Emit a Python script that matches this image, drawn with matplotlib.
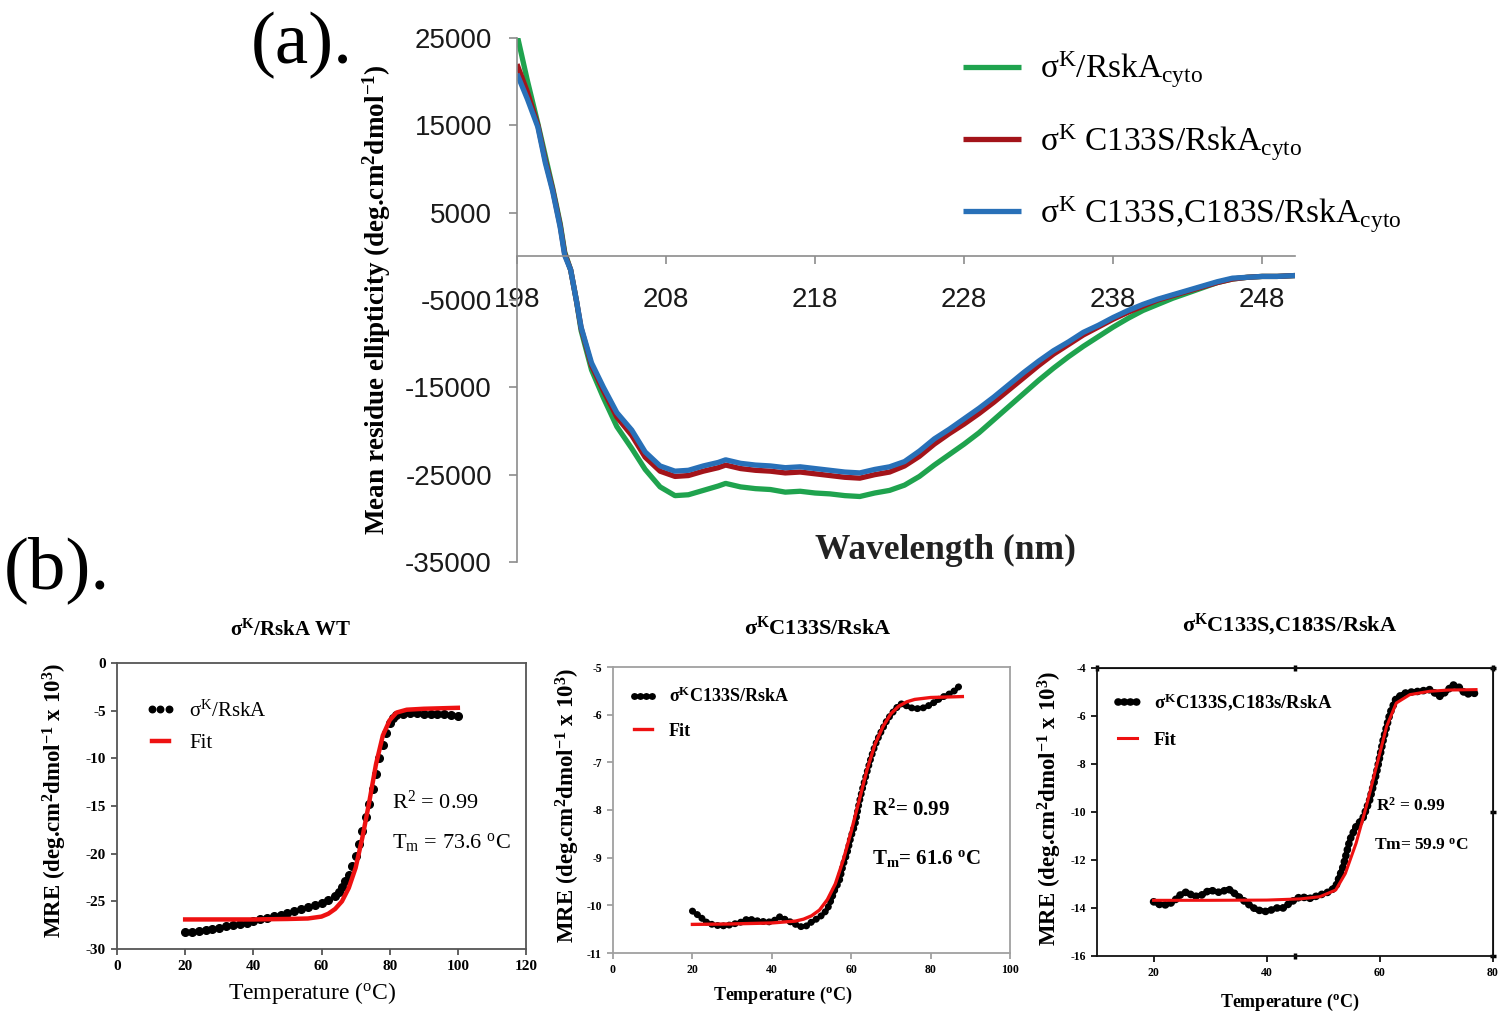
import numpy as np
import matplotlib.pyplot as plt

plt.rcParams['font.family'] = ['Liberation Serif', 'DejaVu Serif']
plt.rcParams['mathtext.fontset'] = 'custom'
plt.rcParams['mathtext.rm'] = 'Liberation Serif'
plt.rcParams['mathtext.it'] = 'Liberation Serif:italic'
plt.rcParams['mathtext.bf'] = 'Liberation Serif:bold'
plt.rcParams['axes.unicode_minus'] = False

# (a) CD spectra
wavelength = [198, 198.7, 199.4, 199.9, 200.4, 200.9, 201.2, 201.6, 202, 202.3,
              203, 203.8, 204.7, 205.7, 206.6, 207.6, 208.6, 209.5, 210.5, 211.5,
              212, 213, 214, 215, 216, 217, 218, 219, 220, 221,
              222, 223, 224, 225, 226, 227, 228, 229, 230, 231,
              232, 233, 234, 235, 236, 237, 238, 239, 240, 241,
              242, 243, 244, 245, 246, 247, 248, 249, 250.2]
cd_wt = [25400, 20100, 15200, 11500, 7800, 3750, 500, -1550, -5200, -8500,
         -13000, -16200, -19500, -22000, -24400, -26400, -27400, -27300, -26800, -26300,
         -26000, -26400, -26600, -26700, -27000, -26900, -27100, -27200, -27400, -27500,
         -27100, -26800, -26200, -25200, -23900, -22700, -21500, -20200, -18700, -17200,
         -15700, -14200, -12800, -11500, -10300, -9200, -8100, -7100, -6200, -5500,
         -4800, -4200, -3600, -3000, -2600, -2400, -2300, -2300, -2200]
cd_c133s = [22000, 18800, 15000, 11000, 7600, 3500, 300, -1550, -5200, -8200,
            -12500, -15400, -18400, -20500, -23000, -24600, -25200, -25100, -24600, -24200,
            -23900, -24300, -24500, -24600, -24800, -24700, -24900, -25100, -25300, -25400,
            -25000, -24700, -24000, -22900, -21500, -20300, -19200, -18000, -16700, -15300,
            -13900, -12500, -11200, -10100, -9000, -8100, -7200, -6400, -5700, -5000,
            -4500, -4000, -3500, -3000, -2600, -2400, -2300, -2300, -2200]
cd_double = [20900, 18000, 14800, 10700, 7400, 3300, 100, -1550, -5200, -8100,
             -12200, -15000, -17900, -19900, -22400, -24000, -24600, -24500, -24000, -23600,
             -23300, -23700, -23900, -24000, -24200, -24100, -24300, -24500, -24700, -24800,
             -24400, -24100, -23500, -22300, -20900, -19800, -18600, -17400, -16100, -14700,
             -13300, -12000, -10800, -9800, -8700, -7900, -7000, -6200, -5500, -4900,
             -4400, -3900, -3400, -2900, -2500, -2400, -2300, -2300, -2200]
cd_labels = [r'σ$^{\mathrm{K}}$/RskA$_{\mathrm{cyto}}$',
             r'σ$^{\mathrm{K}}$ C133S/RskA$_{\mathrm{cyto}}$',
             r'σ$^{\mathrm{K}}$ C133S,C183S/RskA$_{\mathrm{cyto}}$']
cd_colors = ['#1fa34e', '#a3141a', '#2870b8']

# (b) thermal melts
t_wt = [20, 22, 24, 26, 28, 30, 32, 34, 36, 38, 40, 42, 44, 46, 48, 50, 52, 54, 56, 58,
        60, 62, 64, 65, 66, 67, 68, 69, 70, 71, 72, 73, 74, 75, 76, 77, 78, 79, 80, 81,
        82, 84, 86, 88, 90, 92, 94, 96, 98, 100]
mre_wt = [-28.2, -28.2, -28.1, -28.0, -27.9, -27.8, -27.6, -27.5, -27.4, -27.3, -27.1, -26.9, -26.7,
          -26.5, -26.4, -26.2, -26.0, -25.8, -25.6, -25.4, -25.2, -24.9, -24.4, -24.0, -23.5,
          -22.9, -22.2, -21.3, -20.2, -19.0, -17.6, -16.2, -14.8, -13.2, -11.6, -10.0, -8.6,
          -7.3, -6.3, -5.8, -5.5, -5.3, -5.2, -5.2, -5.3, -5.3, -5.3, -5.4, -5.5, -5.6]
tfit_wt = [20, 30, 40, 50, 56, 60, 62, 64, 66, 68, 70, 72, 74, 76, 78, 80, 82, 85, 90, 95, 100]
fit_wt = [-26.9, -26.9, -26.9, -26.85, -26.8, -26.6, -26.3, -25.8, -25.0, -23.6, -21.5, -18.3,
          -14.6, -10.6, -7.6, -6.0, -5.2, -4.9, -4.8, -4.75, -4.7]

t_c133s = list(range(20, 89))
mre_c133s = [-10.12, -10.18, -10.24, -10.32, -10.38, -10.40, -10.42, -10.43, -10.43, -10.42,
             -10.40, -10.38, -10.36, -10.32, -10.28, -10.30, -10.32, -10.33, -10.34, -10.35,
             -10.34, -10.30, -10.24, -10.28, -10.32, -10.36, -10.40, -10.44, -10.46, -10.42,
             -10.35, -10.30, -10.25, -10.18, -10.08, -9.88, -9.65, -9.50, -9.15, -8.90,
             -8.55, -8.30, -7.85, -7.50, -7.20, -6.90, -6.65, -6.45, -6.28, -6.12,
             -6.00, -5.90, -5.80, -5.76, -5.82, -5.85, -5.88, -5.87, -5.86, -5.84,
             -5.78, -5.74, -5.68, -5.63, -5.60, -5.55, -5.50, -5.42, -5.36]
tfit_c133s = [20, 30, 40, 46, 48, 50, 52, 54, 56, 58, 60, 62, 64, 66, 68, 70, 72, 74, 76, 80, 84, 88]
fit_c133s = [-10.40, -10.39, -10.37, -10.33, -10.29, -10.22, -10.10, -9.88, -9.55, -9.05, -8.45,
             -7.80, -7.15, -6.62, -6.25, -5.98, -5.82, -5.73, -5.68, -5.64, -5.63, -5.62]

t_double = [20, 21.2, 22.4, 23.5, 24.7, 25.9, 27.1, 28.5, 29.9, 31.8, 33.2, 34.7, 36.5, 38.2,
            40, 41.8, 42.9, 44.4, 45.9, 47.6, 49.4, 51.1, 52.2, 53.5, 54.7, 55.8, 57, 58.2,
            59.4, 60.6, 61.8, 62.9, 64.7, 67, 68.8, 70.6, 71.8, 72.9, 74, 75.2, 76.4, 77]
mre_double = [-13.74, -13.87, -13.87, -13.74, -13.46, -13.32, -13.53, -13.46, -13.25, -13.36,
              -13.2, -13.46, -13.8, -14.08, -14.15, -14.0, -14.0, -13.74, -13.53, -13.6,
              -13.46, -13.32, -13.11, -12.28, -11.16, -10.6, -10.26, -9.5, -8.38, -6.99,
              -5.88, -5.25, -5.02, -4.97, -4.9, -5.18, -4.97, -4.7, -4.8, -5.1, -5.04, -5.07]
tfit_double = [20, 30, 40, 46, 49.4, 52.2, 53.9, 55.8, 57.6, 59.4, 61.2, 62.9, 65.3, 68.8, 72, 77]
fit_double = [-13.68, -13.68, -13.67, -13.62, -13.53, -13.25, -12.56, -11.3, -9.77, -8.1, -6.43,
              -5.46, -5.11, -4.97, -4.92, -4.9]


W, H = 1507, 1014
fig = plt.figure(figsize=(W / 100, H / 100), dpi=100)


def px_axes(x0, y0, x1, y1):
    return fig.add_axes([x0 / W, 1 - y1 / H, (x1 - x0) / W, (y1 - y0) / H])


# ---- panel (a)
ax = px_axes(517, 38, 1295, 562)
for y, c, lab in zip([cd_wt, cd_c133s, cd_double], cd_colors, cd_labels):
    ax.plot(wavelength, y, color=c, lw=3.8, label=lab, solid_capstyle='butt')
ax.set_xlim(198, 250.2)
ax.set_ylim(-35000, 25000)
ax.set_xticks([198, 208, 218, 228, 238, 248])
ax.set_yticks([25000, 15000, 5000, -5000, -15000, -25000, -35000])
ax.spines['bottom'].set_position(('data', 0))
ax.spines['top'].set_visible(False)
ax.spines['right'].set_visible(False)
for s in ['left', 'bottom']:
    ax.spines[s].set_color('#8c8c8c')
    ax.spines[s].set_linewidth(1.2)
ax.tick_params(direction='out', length=6, width=1.2, color='#8c8c8c',
               labelsize=20, labelcolor='#1a1a1a')
ax.tick_params(axis='x', pad=16)
ax.tick_params(axis='y', pad=12)
for lbl in ax.get_xticklabels() + ax.get_yticklabels():
    lbl.set_family(['Liberation Sans', 'DejaVu Sans'])
ax.legend(loc='upper left', bbox_to_anchor=(963 / W, 1 - 50 / H), bbox_transform=fig.transFigure,
          frameon=False, fontsize=24, handlelength=1.75, handletextpad=0.55,
          labelspacing=0.95, borderpad=0, borderaxespad=0)

fig.text(377 / W, 1 - 300 / H, r'Mean residue ellipticity (deg.cm$^{\mathbf{2}}$dmol$^{\mathbf{-1}}$)',
         rotation=90, ha='center', va='center', fontsize=19.5, fontweight='bold')
fig.text(945 / W, 1 - 550 / H, 'Wavelength (nm)', ha='center', va='center',
         fontsize=25.5, fontweight='bold', color='#222222')
fig.text(302 / W, 1 - 45 / H, '(a).', ha='center', va='center', fontsize=54)
fig.text(57 / W, 1 - 570 / H, '(b).', ha='center', va='center', fontsize=54)


# ---- panel (b)
def melt_axes(box, xlim, ylim, xticks, yticks, spine_color, tick_size):
    a = px_axes(*box)
    a.set_xlim(*xlim)
    a.set_ylim(*ylim)
    a.set_xticks(xticks)
    a.set_yticks(yticks)
    for s in a.spines.values():
        s.set_color(spine_color)
        s.set_linewidth(1.3)
    a.tick_params(direction='out', length=4, width=1.3, color=spine_color,
                  labelsize=tick_size, pad=4)
    for lbl in a.get_xticklabels() + a.get_yticklabels():
        lbl.set_fontweight('bold')
    return a


ylab = r'MRE (deg.cm$^{\mathbf{2}}$dmol$^{\mathbf{-1}}$ x 10$^{\mathbf{3}}$)'

# WT
b1 = melt_axes((117, 663, 526, 949), (0, 120), (-30, 0), range(0, 121, 20),
               range(-30, 1, 5), '#555555', 11)
b1.plot(t_wt, mre_wt, 'o', color='black', ms=5.5, label=r'σ$^{\mathrm{K}}$/RskA')
b1.plot(tfit_wt, fit_wt, color='#ee1111', lw=3.2, label='Fit')
b1.legend(loc='upper left', bbox_to_anchor=(0.07, 0.87), frameon=False, fontsize=15,
          numpoints=3, markerscale=0.85, handlelength=1.4, handletextpad=0.7,
          labelspacing=0.6, borderpad=0, borderaxespad=0)
b1.text(0.672, 0.514, r'R$^{\mathrm{2}}$ = 0.99', transform=b1.transAxes, fontsize=16, va='center')
b1.text(0.672, 0.371, r'T$_{\mathrm{m}}$ = 73.6 $^{\mathrm{o}}$C', transform=b1.transAxes,
        fontsize=16, va='center')
fig.text(290 / W, 1 - 630 / H, r'σ$^{\mathbf{K}}$/RskA WT', ha='center', va='center',
         fontsize=15, fontweight='bold')
fig.text(55 / W, 1 - 800 / H, ylab, rotation=90, ha='center', va='center', fontsize=16.5,
         fontweight='bold')
fig.text(312 / W, 1 - 993 / H, r'Temperature ($^{\mathrm{o}}$C)', ha='center', va='center',
         fontsize=17)

# C133S
b2 = melt_axes((613, 667, 1010, 953), (0, 100), (-11, -5), range(0, 101, 20),
               range(-11, -4), '#a0a0a0', 8.5)
b2.plot(t_c133s, mre_c133s, color='black', lw=5, linestyle=(0, (0.05, 0.8)),
        dash_capstyle='round', label=r'σ$^{\mathbf{K}}$C133S/RskA')
b2.plot(tfit_c133s, fit_c133s, color='#ee1111', lw=2.4, label='Fit')
b2.legend(loc='upper left', bbox_to_anchor=(0.04, 0.93), frameon=False,
          numpoints=3, handlelength=1.6, handletextpad=0.6, labelspacing=0.9,
          borderpad=0, borderaxespad=0, prop={'weight': 'bold', 'size': 13})
b2.text(0.652, 0.5, r'R$^{\mathbf{2}}$= 0.99', transform=b2.transAxes, fontsize=15,
        fontweight='bold', va='center')
b2.text(0.652, 0.332, r'T$_{\mathbf{m}}$= 61.6 $^{\mathbf{o}}$C', transform=b2.transAxes,
        fontsize=15, fontweight='bold', va='center')
fig.text(818 / W, 1 - 628 / H, r'σ$^{\mathbf{K}}$C133S/RskA', ha='center', va='center',
         fontsize=16, fontweight='bold')
fig.text(568 / W, 1 - 805 / H, ylab, rotation=90, ha='center', va='center', fontsize=16.5,
         fontweight='bold')
fig.text(783 / W, 1 - 995 / H, r'Temperature ($^{\mathbf{o}}$C)', ha='center', va='center',
         fontsize=13, fontweight='bold')

# C133S,C183S
b3 = melt_axes((1097, 668, 1493, 956), (10, 80), (-16, -4), [20, 40, 60, 80],
               range(-16, -3, 2), '#111111', 8.5)
b3.set_xticks([45], minor=True)
b3.tick_params(axis='x', which='minor', length=4, width=2.5, direction='inout')
top = b3.secondary_xaxis('top')
top.set_xticks([10, 45, 80], labels=[])
top.tick_params(length=4, width=2.5, direction='inout')
right = b3.secondary_yaxis('right')
right.set_yticks([-16, -10, -4], labels=[])
right.tick_params(length=4, width=2.5, direction='inout')
b3.plot(t_double, mre_double, color='black', lw=5.5, linestyle=(0, (0.05, 0.75)),
        dash_capstyle='round', label=r'σ$^{\mathbf{K}}$C133S,C183s/RskA')
b3.plot(tfit_double, fit_double, color='#ee1111', lw=2.2, label='Fit')
b3.legend(loc='upper left', bbox_to_anchor=(0.04, 0.92), frameon=False,
          numpoints=3, handlelength=1.6, handletextpad=0.6, labelspacing=1.0,
          borderpad=0, borderaxespad=0, prop={'weight': 'bold', 'size': 13.5})
b3.text(0.705, 0.521, r'R$^{\mathbf{2}}$ = 0.99', transform=b3.transAxes, fontsize=12.5,
        fontweight='bold', va='center')
b3.text(0.700, 0.385, r'Tm= 59.9 $^{\mathbf{o}}$C', transform=b3.transAxes,
        fontsize=12.5, fontweight='bold', va='center')
fig.text(1290 / W, 1 - 625 / H, r'σ$^{\mathbf{K}}$C133S,C183S/RskA', ha='center', va='center',
         fontsize=16, fontweight='bold')
fig.text(1050 / W, 1 - 808 / H, ylab, rotation=90, ha='center', va='center', fontsize=16.5,
         fontweight='bold')
fig.text(1290 / W, 1 - 1002 / H, r'Temperature ($^{\mathbf{o}}$C)', ha='center', va='center',
         fontsize=13, fontweight='bold')

fig.savefig('out.png', dpi=100)
